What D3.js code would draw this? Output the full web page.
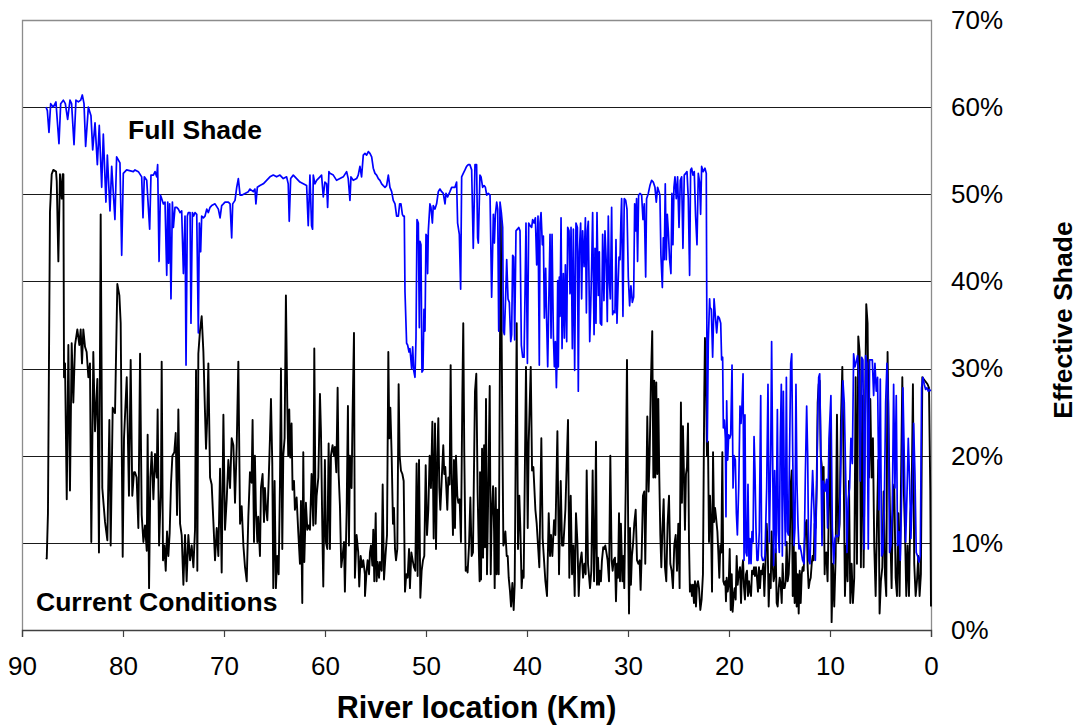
<!DOCTYPE html>
<html>
<head>
<meta charset="utf-8">
<script src="https://cdn.jsdelivr.net/npm/d3@7"></script>
<style>
  html, body { margin: 0; padding: 0; background: #fff; }
  svg { display: block; }
  text { font-family: "Liberation Sans", Arial, Helvetica, sans-serif; fill: #000; }
</style>
</head>
<body>
<svg id="chart" width="1079" height="725"></svg>
<script>
// ---- Data (river location in km, effective shade in %) ----
const xTicks = [90, 80, 70, 60, 50, 40, 30, 20, 10, 0];
const yTicks = [0, 10, 20, 30, 40, 50, 60, 70];
const yTickLabels = ["0%", "10%", "20%", "30%", "40%", "50%", "60%", "70%"];
const seriesNames = ["Full Shade", "Current Conditions"];
const xTitle = "River location (Km)";
const yTitle = "Effective Shade";

const fullShade = [
[87.62,60.0],[87.49,59.6],[87.33,57.1],[87.16,60.4],[86.9,60.0],[86.64,60.6],[86.34,55.8],[86.17,60.4],[85.91,60.8],[85.71,60.4],[85.48,58.6],[85.25,60.8],[85.09,60.4],[84.85,55.7],[84.66,60.8],[84.42,60.6],[84.19,60.8],[84.03,61.4],[83.86,60.4],[83.7,55.5],[83.43,60.0],[83.17,59.0],[83.0,55.1],[82.77,58.2],[82.54,53.4],[82.35,57.9],[82.11,50.8],[81.95,56.9],[81.69,49.1],[81.55,54.5],[81.29,48.1],[81.12,53.2],[80.8,47.1],[80.63,54.3],[80.3,53.6],[80.13,43.0],[79.97,52.4],[79.64,52.8],[78.98,52.6],
[78.81,52.8],[78.48,52.6],[78.15,52.0],[78.02,47.3],[77.89,52.0],[77.65,51.6],[77.36,46.0],[77.23,52.2],[76.99,52.2],[76.83,52.6],[76.66,52.0],[76.57,53.4],[76.43,42.3],[76.3,49.9],[76.17,49.5],[76.0,48.9],[75.84,49.1],[75.67,40.7],[75.57,49.1],[75.48,42.1],[75.38,48.9],[75.25,38.0],[75.11,49.1],[75.01,46.2],[74.85,48.5],[74.68,48.5],[74.52,48.3],[74.35,47.9],[74.19,48.1],[74.02,40.9],[73.86,47.5],[73.76,30.4],[73.63,47.5],[73.53,47.9],[73.36,47.9],[73.27,35.2],[73.13,47.9],[73.0,47.5],[72.87,47.9],[72.7,47.7],[72.54,34.1],[72.44,46.7],[72.31,43.4],[72.21,47.5],[72.04,47.3],[71.88,47.5],[71.71,48.3],[71.55,47.9],[71.38,48.5],[71.22,48.7],[70.89,48.9],[70.56,48.3],[70.39,47.3],[70.23,48.7],[70.06,48.9],[69.9,49.1],[69.57,49.1],[69.4,48.9],[69.24,45.0],[69.14,48.9],[68.91,49.3],[68.74,50.8],[68.58,51.8],[68.41,49.9],[68.25,49.9],[67.92,50.1],[67.59,50.3],
[67.43,50.6],[67.1,50.3],[66.94,50.6],[66.84,48.9],[66.7,50.8],[66.44,51.0],[66.11,51.2],[65.78,51.6],[65.45,52.0],[65.12,52.2],[64.79,52.0],[64.46,52.2],[64.13,51.8],[63.8,52.0],[63.64,51.2],[63.54,46.9],[63.4,51.8],[63.14,52.2],[62.81,51.8],[62.48,51.4],[62.15,51.2],[61.82,51.0],[61.66,46.4],[61.49,52.2],[61.33,46.4],[61.23,46.0],[61.16,52.2],[61.0,51.2],[60.83,51.6],[60.5,52.0],[60.34,52.2],[60.17,49.7],[60.01,51.4],[59.84,51.2],[59.74,48.5],[59.61,52.6],[59.51,52.4],[59.18,52.2],[58.85,51.6],[58.52,51.8],[58.19,52.0],[57.86,52.6],[57.7,51.8],[57.53,49.3],[57.43,52.0],[57.2,51.6],[56.87,51.8],[56.71,52.2],[56.54,53.2],[56.38,52.0],[56.21,54.5],
[56.04,54.7],[55.88,54.5],[55.71,54.9],[55.55,54.7],[55.38,54.3],[55.22,53.0],[55.05,52.4],[54.89,52.2],[54.72,51.8],[54.56,51.6],[54.39,51.2],[54.23,51.0],[54.06,50.8],[53.9,51.0],[53.73,52.2],[53.57,50.8],[53.4,50.3],[53.24,49.3],[53.07,48.9],[52.91,47.5],[52.74,47.5],[52.61,48.9],[52.48,48.9],[52.34,47.7],[52.25,47.5],[52.15,47.5],[52.08,38.8],[51.92,32.9],[51.82,32.7],[51.68,31.9],[51.59,32.3],[51.42,30.0],[51.32,32.5],[51.22,29.8],[51.09,29.0],[50.99,33.5],[50.89,47.1],[50.76,46.7],[50.66,34.7],[50.6,44.6],[50.5,44.2],[50.4,29.6],[50.3,29.8],[50.2,36.8],[50.1,34.3],[50.0,45.4],[49.9,45.2],[49.84,40.9],[49.77,45.8],[49.61,48.9],[49.51,48.5],[49.37,46.7],[49.28,48.7],[49.11,48.3],[48.95,48.9],[48.78,50.3],[48.62,50.6],[48.45,50.3],[48.29,50.1],[48.12,48.9],[48.02,50.1],[47.86,49.7],[47.63,50.3],[47.46,50.8],[47.13,50.8],[46.97,51.4],[46.87,46.7],[46.7,45.4],[46.57,39.1],[46.47,52.0],[46.31,52.4],[46.14,52.8],[45.98,53.2],[45.81,53.4],[45.65,53.4],[45.48,52.8],[45.32,43.8],[45.15,53.4],[44.99,53.4],[44.89,45.0],[44.82,44.4],[44.66,52.2],
[44.65,52.2],[44.55,52.0],[44.39,50.8],[44.25,51.0],[44.12,50.8],[43.99,49.9],[43.83,50.1],[43.66,49.9],[43.5,38.2],[43.33,47.7],[43.23,44.4],[43.13,47.7],[43.0,49.1],[42.9,48.3],[42.8,34.3],[42.67,49.1],[42.54,47.9],[42.41,46.2],[42.34,34.3],[42.24,33.9],[42.11,38.4],[42.01,42.5],[41.88,38.0],[41.75,37.6],[41.61,33.1],[41.52,33.9],[41.42,43.0],[41.32,42.8],[41.22,33.3],[41.09,45.8],[40.95,46.0],[40.82,46.2],[40.69,45.8],[40.56,32.7],[40.43,31.3],[40.29,31.3],[40.2,38.4],[40.1,46.7],[39.96,30.6],[39.83,46.7],[39.7,46.4],[39.54,46.2],[39.44,47.1],[39.3,46.7],[39.17,47.3],[39.04,41.9],[38.91,47.5],[38.78,30.4],[38.71,46.7],[38.61,47.9],[38.48,44.2],[38.38,45.2],[38.28,35.8],[38.15,41.5],[38.05,35.2],[37.95,30.2],[37.82,39.1],[37.72,45.4],[37.62,33.5],[37.52,45.4],[37.39,33.9],[37.29,30.2],[37.19,33.1],[37.09,27.8],[37.03,31.0],[36.96,40.1],[36.9,30.2],[36.8,40.5],[36.73,36.0],[36.63,47.3],[36.53,32.3],[36.4,40.9],[36.3,33.5],[36.2,41.9],[36.07,33.1],[35.97,46.2],[35.84,45.8],[35.74,38.6],[35.64,46.2],[35.51,32.3],[35.41,46.0],[35.28,29.8],[35.15,46.7],[35.01,46.2],[34.92,27.4],[34.82,43.4],[34.69,46.7],[34.59,38.0],[34.49,45.8],[34.35,41.7],[34.22,47.3],[34.12,36.4],[34.02,45.8],[33.93,46.9],[33.79,33.1],[33.69,37.2],[33.6,41.7],[33.5,47.9],[33.36,33.9],
[33.27,43.8],[33.17,35.2],[33.07,47.9],[32.94,38.4],[32.84,43.4],[32.74,35.2],[32.61,35.0],[32.51,45.4],[32.38,37.8],[32.28,45.8],[32.15,42.1],[32.05,35.4],[31.95,47.5],[31.85,40.1],[31.75,38.0],[31.62,48.5],[31.52,36.2],[31.42,36.6],[31.29,36.4],[31.19,44.8],[31.09,35.2],[30.99,39.3],[30.89,42.8],[30.79,42.5],[30.7,47.1],[30.63,49.5],[30.5,36.0],[30.37,49.5],[30.23,49.3],[30.1,48.3],[29.97,40.5],[29.84,37.2],[29.71,39.5],[29.57,37.6],[29.44,38.2],[29.34,48.9],[29.24,45.8],[29.15,49.5],[29.05,42.3],[28.95,49.9],[28.82,50.1],[28.65,49.9],[28.52,47.1],[28.39,48.9],[28.25,40.5],[28.16,49.5],[27.99,50.1],[27.83,51.0],[27.66,51.6],[27.5,51.4],[27.33,50.8],[27.2,49.1],[27.07,50.8],[26.93,50.3],[26.84,49.9],[26.74,43.0],[26.6,39.3],[26.5,45.0],[26.41,42.5],[26.31,51.2],[26.21,42.5],[26.11,47.7],[26.01,45.8],[25.88,42.5],[25.75,40.9],[25.65,50.1],[25.55,44.2],[25.45,50.8],[25.35,52.0],[25.22,49.5],[25.09,52.0],[24.95,46.2],[24.82,51.6],[24.69,52.0],[24.56,43.8],[24.43,52.2],[24.29,52.4],[24.16,52.6],[24.03,49.5],[23.9,40.7],[23.8,52.8],[23.7,53.0],[23.57,52.2],[23.44,52.6],[23.31,47.5],[23.17,44.2],[23.04,52.4],[22.91,51.4],[22.81,47.7],[22.71,53.2],[22.55,52.6],[22.38,53.0],[22.25,52.4],[22.15,21.6],[22.05,33.1],[21.92,38.0],
[21.88,37.0],[21.75,36.8],[21.62,31.3],[21.48,38.0],[21.35,36.0],[21.22,34.1],[21.09,36.0],[20.96,35.8],[20.82,35.2],[20.73,31.0],[20.63,31.3],[20.56,23.2],[20.46,24.1],[20.36,22.0],[20.3,13.0],[20.23,26.3],[20.13,19.5],[20.03,22.4],[19.93,22.0],[19.83,22.4],[19.7,30.4],[19.6,16.3],[19.5,20.0],[19.37,19.5],[19.27,13.4],[19.17,10.9],[19.04,16.3],[18.91,25.7],[18.81,23.7],[18.71,25.9],[18.61,29.4],[18.51,8.0],[18.42,24.7],[18.32,8.9],[18.22,8.5],[18.12,16.7],[18.02,7.6],[17.92,10.5],[17.82,7.6],[17.72,11.3],[17.62,10.1],[17.52,22.2],[17.43,18.3],[17.33,11.7],[17.23,8.0],[17.13,8.0],[17.0,11.3],[16.86,26.9],[16.77,8.5],[16.67,8.0],[16.53,8.0],[16.44,8.5],[16.27,16.3],[16.14,28.2],[16.01,10.1],[15.87,20.0],[15.78,33.1],[15.68,20.0],[15.58,7.4],[15.48,18.3],[15.35,8.9],[15.21,25.3],[15.12,11.3],[15.02,8.9],[14.92,22.0],[14.82,28.2],[14.72,8.5],[14.62,27.4],[14.52,15.9],[14.42,9.7],[14.32,29.0],[14.22,11.3],[14.12,10.9],[14.03,17.9],[13.89,30.6],[13.79,31.7],[13.69,20.0],[13.56,9.7],[13.47,11.7],[13.37,28.2],[13.27,16.7],[13.17,12.2],[13.07,9.3],[12.97,9.7],[12.84,8.9],[12.71,8.0],[12.57,7.6],[12.44,17.9],[12.31,25.7],[12.21,20.0],[12.11,8.0],[11.98,7.6],[11.85,13.8],[11.72,18.3],[11.58,13.8],[11.45,8.0],[11.32,15.9],[11.22,24.1],[11.12,29.0],[11.02,29.4],[10.92,21.6],[10.79,9.7],[10.69,17.1],[10.59,16.7],
[10.5,15.9],[10.34,17.3],[10.24,11.7],[10.1,22.0],[9.91,26.9],[9.77,11.7],[9.64,7.6],[9.51,10.5],[9.38,10.9],[9.25,10.7],[9.11,10.9],[8.98,15.9],[8.85,23.7],[8.72,28.6],[8.59,26.1],[8.45,17.9],[8.32,8.9],[8.19,15.0],[8.06,16.3],[7.93,22.0],[7.79,19.1],[7.66,31.7],[7.53,30.2],[7.4,30.8],[7.27,31.5],[7.13,29.0],[7.0,17.1],[6.87,31.3],[6.74,31.0],[6.61,9.3],[6.47,31.5],[6.34,30.6],[6.21,9.3],[6.08,31.0],[5.95,31.0],[5.81,31.0],[5.68,26.9],[5.55,30.6],[5.42,27.4],[5.29,29.0],[5.15,13.8],[5.02,28.8],[4.89,8.5],[4.76,8.9],[4.63,13.8],[4.49,26.1],[4.36,30.6],[4.23,26.1],[4.1,8.9],[3.97,9.7],[3.83,13.8],[3.7,28.2],[3.57,16.3],[3.44,26.9],[3.31,9.7],[3.17,11.3],[3.04,8.0],[2.91,15.4],[2.78,27.8],[2.65,20.0],[2.51,10.1],[2.38,15.4],[2.25,22.0],[2.12,17.1],[1.99,10.5],[1.85,15.9],[1.72,23.7],[1.59,17.9],[1.46,8.9],[1.33,8.5],[1.19,7.8],[1.06,8.5],[0.93,27.8],[0.8,29.0],[0.67,28.2],[0.53,27.6],[0.4,27.8],[0.27,27.4],[0.14,27.6],[0.04,27.4]
];

const currentConditions = [
[87.62,8.3],[87.55,8.2],[87.43,13.4],[87.23,48.0],[87.06,52.3],[86.9,52.8],[86.63,52.6],[86.56,51.5],[86.4,42.3],[86.24,52.3],[86.07,49.5],[85.97,52.3],[85.9,52.3],[85.84,29.0],[85.74,30.6],[85.57,15.0],[85.41,32.7],[85.25,16.0],[85.08,32.9],[84.92,26.1],[84.75,32.7],[84.52,34.5],[84.32,32.7],[84.19,34.5],[84.06,30.6],[83.93,34.5],[83.76,32.5],[83.6,31.9],[83.43,29.0],[83.27,30.6],[83.14,10.1],[82.94,31.9],[82.77,22.8],[82.54,28.8],[82.38,8.9],[82.21,47.7],[82.05,16.3],[81.78,12.4],[81.55,10.3],[81.35,24.1],[81.22,9.7],[81.02,25.5],[80.79,24.9],[80.56,39.7],[80.36,38.4],[80.23,35.2],[80.03,8.4],[79.9,22.0],[79.63,29.0],[79.41,15.4],[79.24,31.0],[79.08,15.4],[78.91,18.1],
[78.81,18.1],[78.65,17.5],[78.48,11.7],[78.31,31.7],[78.15,13.2],[77.98,10.1],[77.82,12.0],[77.65,9.1],[77.56,22.4],[77.42,4.8],[77.29,17.5],[77.16,20.4],[76.99,15.0],[76.83,20.2],[76.66,17.5],[76.57,25.3],[76.43,9.7],[76.24,16.3],[76.17,30.8],[76.04,8.0],[75.9,9.7],[75.77,6.8],[75.64,11.3],[75.51,8.5],[75.38,11.1],[75.25,16.7],[75.11,20.0],[74.92,20.4],[74.78,22.6],[74.65,13.2],[74.52,25.3],[74.35,12.2],[74.19,10.9],[74.02,5.2],[73.86,10.9],[73.7,5.6],[73.53,10.9],[73.36,8.0],[73.2,9.7],[73.03,7.2],[72.87,11.5],[72.77,29.8],[72.64,6.8],[72.54,31.7],[72.38,34.3],[72.21,36.0],[72.04,31.9],[71.88,24.9],[71.78,20.8],[71.68,23.7],[71.55,30.6],[71.38,17.5],[71.22,16.7],[71.05,12.4],[70.89,8.0],[70.72,11.7],[70.56,8.5],[70.39,18.5],[70.23,6.6],[70.06,24.7],[69.9,11.5],[69.73,15.0],[69.57,19.5],[69.4,16.3],[69.24,22.0],[69.07,21.2],[68.91,14.6],[68.74,21.2],[68.58,30.8],[68.41,12.2],[68.25,14.2],[68.08,9.7],[67.92,7.2],[67.75,5.6],[67.59,13.0],
[67.43,18.1],[67.27,16.9],[67.17,24.1],[67.03,10.1],[66.94,20.0],[66.84,13.8],[66.7,10.1],[66.61,13.0],[66.44,8.5],[66.34,16.3],[66.18,17.9],[66.04,12.4],[65.95,16.3],[65.85,14.2],[65.71,12.6],[65.58,17.1],[65.45,22.0],[65.35,26.5],[65.22,19.1],[65.12,4.8],[64.99,17.1],[64.86,4.8],[64.73,8.5],[64.59,6.4],[64.46,16.7],[64.36,30.0],[64.23,9.3],[64.13,20.0],[64.0,22.0],[63.87,38.4],[63.73,25.5],[63.64,20.0],[63.54,25.3],[63.44,19.8],[63.31,23.7],[63.21,16.1],[63.07,17.1],[62.98,13.8],[62.81,15.2],[62.65,11.3],[62.48,7.6],[62.38,14.8],[62.25,3.1],[62.15,20.4],[62.05,7.8],[61.89,14.6],[61.75,11.5],[61.62,12.0],[61.49,11.5],[61.33,17.9],[61.16,12.0],[61.06,32.3],[60.93,12.2],[60.83,15.4],[60.66,17.5],[60.5,27.1],[60.4,22.8],[60.27,12.0],[60.17,5.0],[60.01,19.5],[59.91,10.1],[59.77,9.3],[59.64,21.4],[59.51,9.3],[59.41,20.0],[59.25,21.2],[59.11,20.0],[59.02,21.0],[58.88,18.1],[58.75,27.8],[58.65,17.9],[58.52,14.2],[58.39,7.2],[58.26,8.5],[58.12,10.1],[58.03,4.4],[57.86,13.4],[57.73,25.7],[57.63,9.7],[57.53,20.0],[57.37,16.3],[57.27,24.7],[57.13,34.1],[57.04,6.0],[56.87,10.9],[56.71,8.9],[56.61,5.0],[56.47,8.5],[56.34,7.2],[56.21,8.0],[56.05,6.4],
[56.04,3.9],[55.88,6.8],[55.78,8.0],[55.64,6.4],[55.55,8.9],[55.45,9.7],[55.31,7.4],[55.22,11.5],[55.12,5.6],[54.98,13.4],[54.89,5.6],[54.79,7.8],[54.65,6.0],[54.56,7.8],[54.39,6.8],[54.29,16.7],[54.16,5.8],[53.99,8.9],[53.86,10.9],[53.73,31.9],[53.63,22.0],[53.53,25.5],[53.4,20.0],[53.27,12.2],[53.17,14.0],[53.07,9.3],[52.97,8.0],[52.84,9.3],[52.71,28.2],[52.61,20.0],[52.48,18.3],[52.34,17.9],[52.21,17.1],[52.08,4.4],[51.95,6.4],[51.82,6.0],[51.68,9.3],[51.59,4.8],[51.45,8.9],[51.32,8.0],[51.19,7.2],[51.06,6.8],[50.93,19.1],[50.83,6.2],[50.69,19.5],[50.56,3.7],[50.43,6.8],[50.3,8.0],[50.17,8.5],[50.03,18.9],[49.9,10.9],[49.77,13.8],[49.64,20.0],[49.51,16.3],[49.37,23.9],[49.24,10.5],[49.11,23.7],[49.01,9.3],[48.88,20.0],[48.78,24.3],[48.68,16.3],[48.58,13.8],[48.45,17.1],[48.29,21.2],[48.19,17.9],[48.09,18.7],[47.99,16.3],[47.89,13.8],[47.79,17.5],[47.66,16.7],[47.56,30.4],[47.46,17.9],[47.33,10.9],[47.23,19.5],[47.13,11.7],[47.03,20.0],[46.9,15.4],[46.8,14.6],[46.67,15.0],[46.54,10.1],[46.4,26.9],[46.31,35.2],[46.21,20.4],[46.07,6.8],[45.98,7.2],[45.88,6.6],[45.74,9.7],[45.61,15.2],[45.48,8.5],[45.35,8.9],[45.15,27.4],[45.02,29.4],[44.89,15.9],[44.79,10.1],[44.69,5.6],
[44.65,18.1],[44.55,5.8],[44.45,20.8],[44.35,8.3],[44.25,21.2],[44.16,9.5],[44.06,26.5],[43.96,6.4],[43.83,16.3],[43.69,28.0],[43.59,6.4],[43.5,13.0],[43.36,16.5],[43.26,11.3],[43.2,4.8],[43.1,16.3],[43.0,6.4],[42.9,13.8],[42.8,6.4],[42.6,47.9],[42.44,22.8],[42.34,9.7],[42.24,10.1],[42.14,11.3],[42.01,8.5],[41.91,8.5],[41.81,6.0],[41.68,4.4],[41.58,2.7],[41.45,5.4],[41.32,2.3],[41.22,5.2],[41.02,35.2],[40.89,9.3],[40.76,15.4],[40.66,11.7],[40.53,4.8],[40.43,6.8],[40.33,6.0],[40.1,30.2],[39.93,11.7],[39.83,21.6],[39.63,30.2],[39.5,18.3],[39.37,18.7],[39.17,13.8],[39.04,12.2],[38.78,7.2],[38.58,22.0],[38.45,10.5],[38.18,5.6],[38.02,3.9],[37.85,13.4],[37.72,8.5],[37.62,10.9],[37.49,8.5],[37.32,12.6],[37.19,10.9],[36.99,22.8],[36.83,6.4],[36.66,17.1],[36.53,9.7],[36.4,9.7],[36.2,13.8],[35.94,24.1],[35.81,6.0],[35.67,15.4],[35.54,6.4],[35.41,9.7],[35.28,3.9],[35.15,13.4],[35.01,10.1],[34.88,3.9],[34.75,7.6],[34.59,8.9],[34.45,6.0],[34.32,7.6],[34.19,6.4],[34.09,18.3],[33.96,7.6],[33.76,4.8],[33.63,6.8],[33.5,18.3],[33.36,5.6],
[33.27,10.1],[33.17,21.6],[33.07,5.2],[32.97,8.3],[32.87,5.2],[32.78,6.8],[32.68,5.6],[32.58,8.0],[32.45,9.5],[32.35,9.3],[32.25,9.7],[32.11,8.7],[32.02,8.0],[31.88,5.6],[31.75,20.0],[31.62,8.0],[31.52,6.8],[31.42,8.0],[31.29,8.3],[31.19,3.3],[31.09,7.6],[30.99,6.0],[30.89,13.4],[30.79,5.6],[30.7,12.2],[30.56,5.6],[30.47,8.5],[30.37,4.8],[30.23,15.9],[30.1,31.0],[29.97,9.7],[29.9,1.9],[29.8,11.7],[29.71,5.2],[29.61,8.5],[29.51,9.7],[29.38,12.2],[29.24,13.8],[29.11,8.0],[28.98,7.6],[28.85,8.0],[28.75,4.6],[28.65,8.5],[28.52,15.4],[28.39,15.9],[28.29,7.6],[28.19,15.2],[28.09,24.5],[27.96,15.9],[27.86,20.0],[27.73,28.6],[27.6,34.3],[27.49,17.5],[27.4,28.6],[27.3,17.5],[27.2,28.4],[27.1,17.9],[27.0,26.5],[26.9,17.5],[26.8,10.9],[26.7,7.2],[26.6,11.3],[26.47,15.0],[26.34,7.2],[26.21,5.6],[26.08,12.2],[25.94,15.4],[25.81,7.6],[25.68,6.8],[25.55,4.8],[25.42,9.7],[25.28,10.9],[25.15,6.8],[25.02,12.2],[24.89,4.8],[24.76,26.1],[24.66,14.6],[24.56,23.4],[24.46,17.9],[24.36,11.5],[24.26,17.9],[24.16,18.7],[24.06,23.7],[23.96,10.1],[23.87,4.4],[23.77,5.2],[23.67,3.9],[23.57,5.2],[23.47,3.1],[23.37,5.6],[23.27,2.7],[23.17,5.2],[23.07,5.6],[22.97,4.8],[22.84,2.3],[22.71,3.5],[22.58,6.4],[22.45,26.9],[22.38,33.5],[22.28,28.6],[22.18,20.0],[22.08,21.6],[21.98,10.1],
[21.88,15.4],[21.78,12.2],[21.68,4.4],[21.58,20.4],[21.48,12.4],[21.38,14.0],[21.29,13.0],[21.15,11.3],[21.05,8.7],[20.96,6.0],[20.86,9.7],[20.76,8.9],[20.66,20.4],[20.56,5.6],[20.46,5.2],[20.36,5.6],[20.3,3.3],[20.23,6.0],[20.13,4.4],[20.03,5.2],[19.93,9.3],[19.83,2.3],[19.73,6.4],[19.64,2.1],[19.54,3.9],[19.44,4.8],[19.34,3.5],[19.24,8.5],[19.14,5.2],[19.04,6.4],[18.91,7.2],[18.81,3.1],[18.71,6.8],[18.61,8.0],[18.51,4.8],[18.42,3.5],[18.32,6.4],[18.22,6.8],[18.12,3.9],[18.02,5.6],[17.92,4.4],[17.82,3.9],[17.72,6.8],[17.62,6.4],[17.52,7.2],[17.43,6.2],[17.33,7.2],[17.23,6.0],[17.13,4.4],[17.03,7.2],[16.93,4.8],[16.83,6.8],[16.73,6.4],[16.6,7.6],[16.5,3.9],[16.4,7.2],[16.27,12.2],[16.17,9.7],[16.07,2.7],[15.97,6.4],[15.87,4.8],[15.78,11.3],[15.68,7.6],[15.58,5.6],[15.48,6.4],[15.38,9.3],[15.28,3.1],[15.18,2.7],[15.08,4.8],[14.98,6.0],[14.88,5.2],[14.78,3.1],[14.69,7.6],[14.59,4.8],[14.49,4.8],[14.39,5.6],[14.29,10.1],[14.19,5.6],[14.09,6.4],[13.99,9.3],[13.89,16.7],[13.79,18.3],[13.69,3.9],[13.59,9.7],[13.5,3.1],[13.4,8.9],[13.3,2.7],[13.2,6.4],[13.1,1.9],[13.0,6.8],[12.9,3.1],[12.8,6.4],[12.71,7.2],[12.61,6.8],[12.51,10.1],[12.41,12.2],[12.31,12.6],[12.21,7.2],[12.11,4.8],[12.01,5.6],[11.91,6.0],[11.81,7.6],[11.72,8.5],[11.62,8.0],[11.52,12.2],[11.42,11.7],[11.32,16.7],[11.22,26.1],[11.12,28.2],[11.02,28.6],[10.92,20.0],[10.82,18.9],[10.73,14.6],[10.63,18.7],[10.53,6.4],
[10.5,8.0],[10.37,8.9],[10.24,5.6],[10.1,14.6],[9.97,23.7],[9.84,0.9],[9.71,7.6],[9.58,2.7],[9.44,8.5],[9.31,24.7],[9.18,10.1],[9.05,12.2],[8.92,23.7],[8.78,30.2],[8.65,18.7],[8.52,3.9],[8.39,9.7],[8.26,5.6],[8.12,17.1],[7.99,3.1],[7.86,7.6],[7.73,3.1],[7.6,6.0],[7.46,29.0],[7.33,7.6],[7.2,33.7],[7.07,31.9],[6.94,7.2],[6.8,26.9],[6.67,7.2],[6.54,23.7],[6.41,37.4],[6.28,35.2],[6.14,17.5],[6.01,26.5],[5.88,17.5],[5.75,22.0],[5.62,9.7],[5.48,3.9],[5.35,12.2],[5.22,19.5],[5.09,1.9],[4.96,5.6],[4.82,7.2],[4.69,15.9],[4.56,6.4],[4.43,3.9],[4.3,31.9],[4.16,20.0],[4.03,11.3],[3.9,4.8],[3.77,15.4],[3.64,16.7],[3.5,6.0],[3.37,3.9],[3.24,13.4],[3.11,3.9],[2.98,15.9],[2.84,29.0],[2.71,16.7],[2.58,11.7],[2.45,3.9],[2.32,9.7],[2.18,3.9],[2.05,13.4],[1.92,15.0],[1.79,28.2],[1.66,7.6],[1.52,3.9],[1.39,5.6],[1.26,8.5],[1.13,3.9],[1.0,6.4],[0.86,29.0],[0.73,28.8],[0.6,28.6],[0.47,28.4],[0.34,28.2],[0.2,27.8],[0.07,15.9],[0.0,2.7]
];

// ---- Layout ----
const W = 1079, H = 725;
const plot = { left: 22, right: 931, top: 20, bottom: 630 };
const FONT = '"Liberation Sans", Arial, Helvetica, sans-serif';

const svg = d3.select("#chart");
svg.append("rect").attr("width", W).attr("height", H).attr("fill", "#fff");

const x = d3.scaleLinear().domain([90, 0]).range([plot.left, plot.right]);
const y = d3.scaleLinear().domain([0, 70]).range([plot.bottom, plot.top]);

// gridlines
svg.append("g").selectAll("line")
  .data(yTicks.filter(t => t > 0 && t < 70))
  .join("line")
  .attr("x1", plot.left).attr("x2", plot.right)
  .attr("y1", d => Math.round(y(d)) + 0.5).attr("y2", d => Math.round(y(d)) + 0.5)
  .attr("stroke", "#1a1a1a").attr("stroke-width", 1);

// plot border (top, left, right)
svg.append("path")
  .attr("d", `M${plot.left + 0.5},${plot.bottom} V${plot.top + 0.5} H${plot.right + 0.5} V${plot.bottom}`)
  .attr("fill", "none").attr("stroke", "#8c8c8c").attr("stroke-width", 1.3);

// clip
svg.append("clipPath").attr("id", "clip").append("rect")
  .attr("x", plot.left).attr("y", plot.top - 2)
  .attr("width", plot.right - plot.left + 1).attr("height", plot.bottom - plot.top + 2);

const line = d3.line().x(d => x(d[0])).y(d => y(d[1]));

const g = svg.append("g").attr("clip-path", "url(#clip)");
g.append("path").datum(currentConditions)
  .attr("d", line).attr("fill", "none")
  .attr("stroke", "#000").attr("stroke-width", 1.9).attr("stroke-linejoin", "round");
g.append("path").datum(fullShade)
  .attr("d", line).attr("fill", "none")
  .attr("stroke", "#0000ff").attr("stroke-width", 1.7).attr("stroke-linejoin", "round");

// x axis
const xAxis = d3.axisBottom(x).tickValues(xTicks).tickSize(7).tickPadding(20).tickFormat(d3.format("d"));
const xg = svg.append("g").attr("transform", `translate(0,${plot.bottom})`).call(xAxis);
xg.select(".domain").attr("stroke", "#404040").attr("stroke-width", 1.3);
xg.selectAll(".tick line").attr("stroke", "#404040").attr("stroke-width", 1.2);
xg.selectAll(".tick text").attr("font-family", FONT).attr("font-size", 26).attr("fill", "#000");

// right y axis labels
const yAxis = d3.axisRight(y).tickValues(yTicks).tickSize(0).tickPadding(20)
  .tickFormat((d, i) => yTickLabels[i]);
const yg = svg.append("g").attr("transform", `translate(${plot.right},0)`).call(yAxis);
yg.select(".domain").remove();
yg.selectAll(".tick text").attr("font-family", FONT).attr("font-size", 26).attr("fill", "#000");

// titles
svg.append("text")
  .attr("x", (plot.left + plot.right) / 2).attr("y", 718)
  .attr("text-anchor", "middle").attr("font-family", FONT)
  .attr("font-weight", "bold").attr("font-size", 30.5)
  .text(xTitle);

svg.append("text")
  .attr("transform", `translate(1072,320) rotate(-90)`)
  .attr("text-anchor", "middle").attr("font-family", FONT)
  .attr("font-weight", "bold").attr("font-size", 26.5)
  .text(yTitle);

// series labels
svg.append("text")
  .attr("x", 128).attr("y", 139)
  .attr("font-family", FONT).attr("font-weight", "bold").attr("font-size", 26.5)
  .text(seriesNames[0]);
svg.append("text")
  .attr("x", 36).attr("y", 611)
  .attr("font-family", FONT).attr("font-weight", "bold").attr("font-size", 26.5)
  .text(seriesNames[1]);
</script>
</body>
</html>
